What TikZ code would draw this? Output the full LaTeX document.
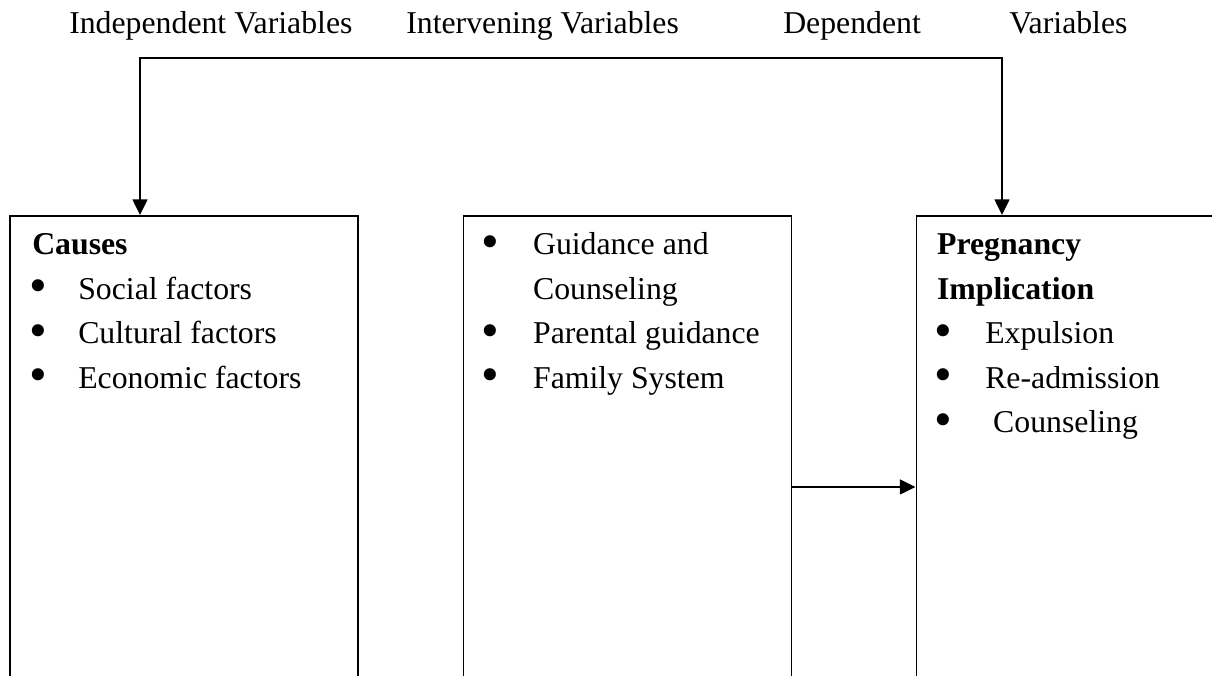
\documentclass[tikz,border=0pt]{standalone}
\usepackage{fontspec}
\setmainfont{Liberation Serif}
\usetikzlibrary{arrows.meta,positioning}
\tikzset{
  box/.style={draw, line width=1.4pt, inner sep=0pt, anchor=north west, minimum height=13cm},
  txt/.style={inner sep=0pt, anchor=base west, font=\fontsize{22.6}{27}\selectfont},
  hd/.style={txt, font=\fontsize{22.6}{27}\selectfont\bfseries},
  bul/.style={inner sep=0pt, font=\fontsize{36}{36}\selectfont},
  tip/.tip={Triangle[length=0.39cm,width=0.37cm]},
  arr/.style={line width=1.4pt, -tip},
}
\begin{document}
\begin{tikzpicture}
    \useasboundingbox (0,0) rectangle (30.3,16.9);
    \clip (0,0) rectangle (30.3,16.9);
    % headings
    \node[txt] (hind) at (1.725,16.07) {Independent Variables};
    \node[txt] (hint) at (10.15,16.07) {Intervening Variables};
    \node[txt] (hdep) at (19.575,16.07) {Dependent};
    \node[txt] (hvar) at (25.225,16.07) {Variables};
    % boxes
    \node[box, minimum width=8.7cm] (causes) at (0.225,11.525) {};
    \node[box, minimum width=8.2cm] (guide) at (11.5625,11.525) {};
    \node[box, minimum width=8cm] (implic) at (22.8875,11.525) {};
    % causes
    \node[hd] (ctitle) at (0.8,10.525) {Causes};
    \foreach \t [count=\i] in {Social factors, Cultural factors, Economic factors} {
        \node[bul] (cb\i) at (0.95,{10.525-1.1125*\i+0.2}) {•};
        \node[txt] (ct\i) at (1.95,{10.525-1.1125*\i}) {\t};
    }
    % intervening
    \node[bul] (gb1) at (12.27,10.725) {•};
    \node[txt] (gt1) at (13.32,10.525) {Guidance and};
    \node[txt] (gt1b) at (13.32,9.4125) {Counseling};
    \node[bul] (gb2) at (12.27,8.5) {•};
    \node[txt] (gt2) at (13.32,8.3) {Parental guidance};
    \node[bul] (gb3) at (12.27,7.3875) {•};
    \node[txt] (gt3) at (13.32,7.1875) {Family System};
    % implication
    \node[hd] (ititle) at (23.42,10.525) {Pregnancy};
    \node[hd] (ititle2) at (23.42,9.4125) {Implication};
    \foreach \t [count=\i] in {Expulsion, Re-admission, \ Counseling} {
        \node[bul] (ib\i) at (23.575,{9.4125-1.1125*\i+0.2}) {•};
        \node[txt] (it\i) at (24.625,{9.4125-1.1125*\i}) {\t};
    }
    % connectors
    \coordinate (tl) at (3.5,15.45);
    \coordinate (tr) at (25.05,15.45);
    \draw[line width=1.4pt, tip-tip] (tl |- causes.north) -- (tl) -- (tr) -- (tr |- implic.north);
    \coordinate (ma) at (0,4.725);
    \draw[arr] (guide.east |- ma) -- (implic.west |- ma);
\end{tikzpicture}
\end{document}
